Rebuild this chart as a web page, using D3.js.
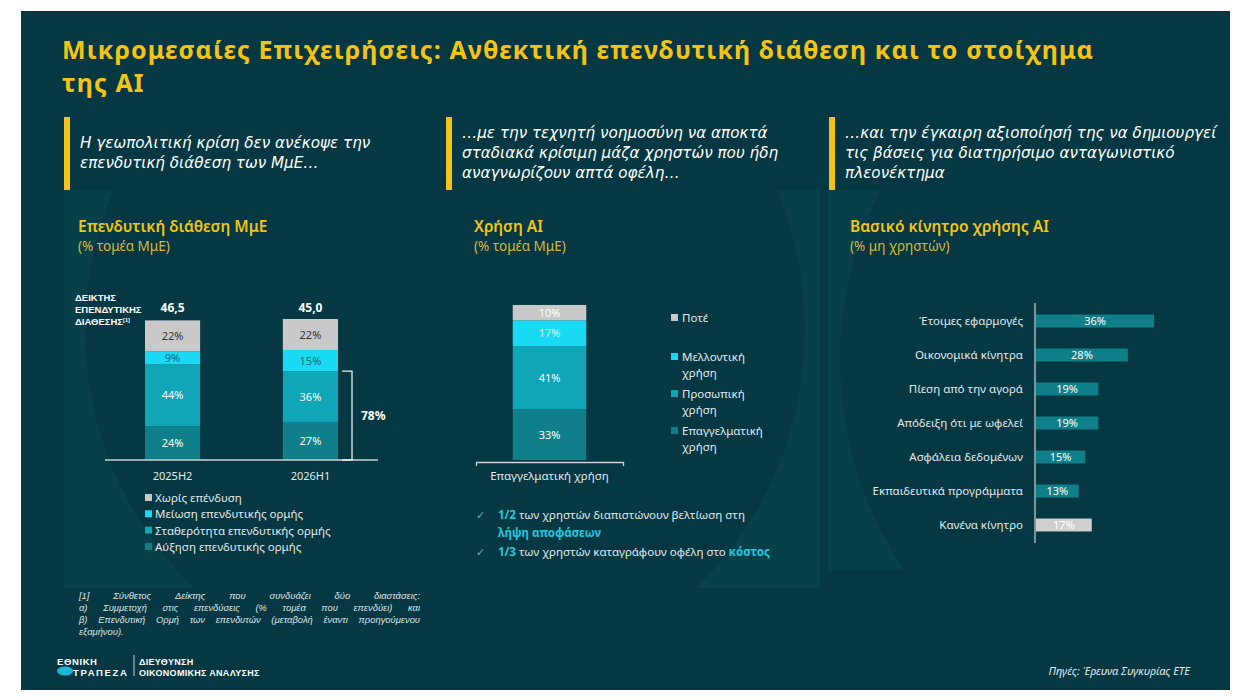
<!DOCTYPE html>
<html>
<head>
<meta charset="utf-8">
<script src="https://cdn.jsdelivr.net/npm/d3@7"></script>
<style>
  body { margin: 0; background: #fff; }
  svg { display: block; font-family: "Noto Sans", sans-serif; }
</style>
</head>
<body>
<svg id="canvas" width="1250" height="700"></svg>
<script>
// ---- data ----
const titleLines = [
  "Μικρομεσαίες Επιχειρήσεις: Ανθεκτική επενδυτική διάθεση και το στοίχημα",
  "της AI"
];
const leadTexts = [
  ["Η γεωπολιτική κρίση δεν ανέκοψε την", "επενδυτική διάθεση των ΜμΕ…"],
  ["…με την τεχνητή νοημοσύνη να αποκτά", "σταδιακά κρίσιμη μάζα χρηστών που ήδη", "αναγνωρίζουν απτά οφέλη…"],
  ["…και την έγκαιρη αξιοποίησή της να δημιουργεί", "τις βάσεις για διατηρήσιμο ανταγωνιστικό", "πλεονέκτημα"]
];

const dispCats = ["2025H2", "2026H1"];
const dispIndex = ["46,5", "45,0"];
const dispSeries = ["Αύξηση επενδυτικής ορμής", "Σταθερότητα επενδυτικής ορμής", "Μείωση επενδυτικής ορμής", "Χωρίς επένδυση"];
const dispValues = [
  [24, 27],
  [44, 36],
  [9, 15],
  [22, 22]
];

const aiCats = ["Επαγγελματική χρήση"];
const aiSeries = ["Επαγγελματική χρήση", "Προσωπική χρήση", "Μελλοντική χρήση", "Ποτέ"];
const aiLegend = [["Επαγγελματική", "χρήση"], ["Προσωπική", "χρήση"], ["Μελλοντική", "χρήση"], ["Ποτέ"]];
const aiValues = [33, 41, 17, 10];

const motiveCats = ["Έτοιμες εφαρμογές", "Οικονομικά κίνητρα", "Πίεση από την αγορά", "Απόδειξη ότι με ωφελεί", "Ασφάλεια δεδομένων", "Εκπαιδευτικά προγράμματα", "Κανένα κίνητρο"];
const motiveValues = [36, 28, 19, 19, 15, 13, 17];

const footnote = [
  "[1] Σύνθετος Δείκτης που συνδυάζει δύο διαστάσεις:",
  "α) Συμμετοχή στις επενδύσεις (% τομέα που επενδύει) και",
  "β) Επενδυτική Ορμή των επενδυτών (μεταβολή έναντι προηγούμενου",
  "εξαμήνου)."
];

// ---- styles ----
const bg = "#053842";
const panelBg = "#08404a";
const yellow = "#f3c416";
const segColors = ["#0f7f89", "#10a6b7", "#1ad9f2", "#c9c9c9"];
const segText = ["#ffffff", "#ffffff", "#16687a", "#333333"];
const textLight = "#e3eaec";

const svg = d3.select("#canvas");

// background + faint decorative panels
svg.append("rect").attr("x", 21).attr("y", 11).attr("width", 1209).attr("height", 679).attr("fill", bg);
const defs = svg.append("defs");
defs.append("clipPath").attr("id", "clipA").append("rect").attr("x", 64).attr("y", 190).attr("width", 756).attr("height", 398);
defs.append("clipPath").attr("id", "clipB").append("rect").attr("x", 828).attr("y", 190).attr("width", 368).attr("height", 380);
const deco = svg.append("g");
deco.append("rect").attr("x", 64).attr("y", 190).attr("width", 756).attr("height", 398).attr("fill", panelBg);
deco.append("circle").attr("cx", 445).attr("cy", 330).attr("r", 360).attr("fill", bg).attr("clip-path", "url(#clipA)");
deco.append("rect").attr("x", 828).attr("y", 190).attr("width", 368).attr("height", 380).attr("fill", panelBg);
deco.append("circle").attr("cx", 1215).attr("cy", 360).attr("r", 375).attr("fill", bg).attr("clip-path", "url(#clipB)");

// title, spaced out to the reference width
const title = svg.append("g").selectAll("text").data(titleLines).join("text")
  .attr("x", 62).attr("y", (d, i) => 59 + i * 33)
  .attr("fill", yellow).attr("font-size", 25).attr("font-weight", 700)
  .text(d => d);
const tNode = title.nodes()[0];
const tSpacing = (1031 - tNode.getComputedTextLength()) / (titleLines[0].length - 1);
title.attr("letter-spacing", tSpacing);

// lead blocks with yellow bars
const leadX = [64, 446, 829];
leadTexts.forEach((lines, k) => {
  const g = svg.append("g");
  g.append("rect").attr("x", leadX[k]).attr("y", 117).attr("width", 6).attr("height", 73).attr("fill", yellow);
  const y0 = lines.length === 2 ? 148 : 138;
  g.selectAll("text").data(lines).join("text")
    .attr("x", leadX[k] + 16).attr("y", (d, i) => y0 + i * 20)
    .attr("fill", "#ffffff").attr("font-family", "DejaVu Sans").attr("font-size", 15.2)
    .attr("font-style", "italic")
    .text(d => d);
});

// chart headers
const headers = [
  { x: 78, t: "Επενδυτική διάθεση ΜμΕ", s: "(% τομέα ΜμΕ)" },
  { x: 474, t: "Χρήση AI", s: "(% τομέα ΜμΕ)" },
  { x: 850, t: "Βασικό κίνητρο χρήσης AI", s: "(% μη χρηστών)" }
];
headers.forEach(h => {
  svg.append("text").attr("x", h.x).attr("y", 232).attr("fill", yellow)
    .attr("font-size", 15.5).attr("font-weight", 600).text(h.t);
  svg.append("text").attr("x", h.x).attr("y", 251).attr("fill", "#d9b73a")
    .attr("font-size", 13.5).text(h.s);
});

// ---- chart 1: stacked bars ----
const x1 = d3.scaleBand().domain(dispCats).range([105, 378]).paddingInner(0.6).paddingOuter(0.29);
const y1 = d3.scaleLinear().domain([0, 100]).range([460, 319]);
const rows1 = dispCats.map((c, j) => {
  const o = { cat: c };
  dispSeries.forEach((s, i) => o[s] = dispValues[i][j]);
  return o;
});
const stack1 = d3.stack().keys(dispSeries)(rows1);

const c1 = svg.append("g");
stack1.forEach((layer, i) => {
  const g = c1.append("g");
  g.selectAll("rect").data(layer).join("rect")
    .attr("x", d => x1(d.data.cat)).attr("width", x1.bandwidth())
    .attr("y", d => y1(d[1])).attr("height", d => y1(d[0]) - y1(d[1]))
    .attr("fill", segColors[i]);
  g.selectAll("text").data(layer).join("text")
    .attr("x", d => x1(d.data.cat) + x1.bandwidth() / 2)
    .attr("y", d => (y1(d[0]) + y1(d[1])) / 2 + 4)
    .attr("text-anchor", "middle").attr("font-size", 11).attr("fill", segText[i])
    .text(d => d.data[layer.key] + "%");
});

c1.append("g").attr("transform", "translate(0,460)")
  .call(d3.axisBottom(x1).tickSize(0).tickSizeOuter(0).tickPadding(12))
  .call(g => g.select(".domain").attr("stroke", "#c9d3d6").attr("stroke-width", 1.5).attr("d", "M105,0H378"))
  .call(g => g.selectAll("text").attr("fill", textLight).attr("font-size", 11).attr("font-family", "Noto Sans"));

c1.selectAll(".idx").data(dispCats).join("text")
  .attr("x", d => x1(d) + x1.bandwidth() / 2).attr("y", 312)
  .attr("text-anchor", "middle").attr("fill", "#ffffff").attr("font-size", 12).attr("font-weight", 700)
  .text((d, i) => dispIndex[i]);

const idxLabel = c1.append("text").attr("fill", "#ffffff").attr("font-family", "Liberation Sans")
  .attr("font-size", 9.5).attr("font-weight", 700);
["ΔΕΙΚΤΗΣ", "ΕΠΕΝΔΥΤΙΚΗΣ", "ΔΙΑΘΕΣΗΣ"].forEach((t, i) => {
  idxLabel.append("tspan").attr("x", 75).attr("y", 301 + i * 12).text(t);
  if (i === 2) idxLabel.append("tspan").attr("font-size", 5.5).attr("dy", -3.5).text("[1]");
});

// bracket on 2026H1
const lastCat = dispCats[1];
const bx = x1(lastCat) + x1.bandwidth() + 14;
const bTop = y1(dispValues[0][1] + dispValues[1][1]);
c1.append("path")
  .attr("d", `M${bx - 10},${bTop}H${bx}V${y1(0)}H${bx - 10}`)
  .attr("fill", "none").attr("stroke", "#e8eef0").attr("stroke-width", 1.3);
const investing = dispValues[0][1] + dispValues[1][1] + dispValues[2][1];
c1.append("text").attr("x", bx + 9).attr("y", (bTop + y1(0)) / 2 + 4)
  .attr("fill", "#ffffff").attr("font-size", 12).attr("font-weight", 700).text(investing + "%");

// legend 1 (top item = last series)
const leg1 = c1.append("g").selectAll("g").data(dispSeries.slice().reverse()).join("g")
  .attr("transform", (d, i) => `translate(145,${502 + i * 16.3})`);
leg1.append("rect").attr("x", 0).attr("y", -8).attr("width", 7).attr("height", 7)
  .attr("fill", (d, i) => segColors[3 - i]);
leg1.append("text").attr("x", 10).attr("y", 0).attr("fill", textLight).attr("font-size", 11.5).text(d => d);

// ---- chart 2: single stacked bar ----
const x2 = d3.scaleBand().domain(aiCats).range([476, 623]).paddingInner(0.5).paddingOuter(0.25);
const y2 = d3.scaleLinear().domain([0, 100]).range([460, 306.5]);
const row2 = { cat: aiCats[0] };
aiSeries.forEach((s, i) => row2[s] = aiValues[i]);
const stack2 = d3.stack().keys(aiSeries)([row2]);
const c2 = svg.append("g");
stack2.forEach((layer, i) => {
  const g = c2.append("g");
  g.selectAll("rect").data(layer).join("rect")
    .attr("x", d => x2(d.data.cat)).attr("width", x2.bandwidth())
    .attr("y", d => y2(d[1])).attr("height", d => y2(d[0]) - y2(d[1]))
    .attr("fill", segColors[i]);
  g.selectAll("text").data(layer).join("text")
    .attr("x", d => x2(d.data.cat) + x2.bandwidth() / 2)
    .attr("y", d => (y2(d[0]) + y2(d[1])) / 2 + 4)
    .attr("text-anchor", "middle").attr("font-size", 11)
    .attr("fill", i === 2 ? "#d9f7fc" : "#ffffff")
    .text(d => d.data[layer.key] + "%");
});
c2.append("g").attr("transform", "translate(0,462)")
  .call(d3.axisBottom(x2).tickSize(0).tickSizeOuter(4).tickPadding(10))
  .call(g => g.select(".domain").attr("stroke", "#c9d3d6").attr("stroke-width", 1.3))
  .call(g => g.selectAll("text").attr("fill", textLight).attr("font-size", 11.5).attr("font-family", "Noto Sans"));

// legend 2
const leg2Y = [322, 361, 398, 435];
const leg2 = c2.append("g").selectAll("g").data(aiLegend.slice().reverse()).join("g")
  .attr("transform", (d, i) => `translate(671,${leg2Y[i]})`);
leg2.append("rect").attr("x", 0).attr("y", -8).attr("width", 7).attr("height", 7)
  .attr("fill", (d, i) => segColors[3 - i]);
leg2.selectAll("text").data(d => d).join("text")
  .attr("x", 11).attr("y", (d, i) => i * 15.5).attr("fill", textLight).attr("font-size", 11.5).text(d => d);

// highlights
const cyan = "#22c7e0";
const notes = [
  { y: 519, parts: [["1/2", true], [" των χρηστών διαπιστώνουν βελτίωση στη", false]], tick: true },
  { y: 537, parts: [["λήψη αποφάσεων", true]], tick: false },
  { y: 556, parts: [["1/3", true], [" των χρηστών καταγράφουν οφέλη στο ", false], ["κόστος", true]], tick: true }
];
notes.forEach(n => {
  if (n.tick) c2.append("text").attr("x", 476).attr("y", n.y).attr("fill", "#5fb7c2").attr("font-size", 11).text("✓");
  const t = c2.append("text").attr("x", 498).attr("y", n.y).attr("font-size", 11.5);
  n.parts.forEach(p => t.append("tspan").attr("fill", p[1] ? cyan : textLight)
    .attr("font-weight", p[1] ? 700 : 400).text(p[0]));
});

// ---- chart 3: horizontal bars ----
const x3 = d3.scaleLinear().domain([0, 100]).range([1036, 1364]);
const y3 = d3.scaleBand().domain(motiveCats).range([304, 542]).paddingInner(0.62).paddingOuter(0.31);
const c3 = svg.append("g");
c3.selectAll("rect").data(motiveCats).join("rect")
  .attr("x", x3(0)).attr("y", d => y3(d))
  .attr("width", (d, i) => x3(motiveValues[i]) - x3(0)).attr("height", y3.bandwidth())
  .attr("fill", (d, i) => i === motiveCats.length - 1 ? "#cfcfcf" : segColors[0]);
c3.selectAll(".val").data(motiveCats).join("text")
  .attr("x", (d, i) => (x3(0) + x3(motiveValues[i])) / 2)
  .attr("y", d => y3(d) + y3.bandwidth() / 2 + 4)
  .attr("text-anchor", "middle").attr("fill", "#ffffff").attr("font-size", 11)
  .text((d, i) => motiveValues[i] + "%");
c3.append("g").attr("transform", "translate(1035,0)")
  .call(d3.axisLeft(y3).tickSize(0).tickSizeOuter(0).tickPadding(12))
  .call(g => g.select(".domain").attr("stroke", "#c9d3d6").attr("stroke-width", 1.2).attr("d", "M0,303V543"))
  .call(g => g.selectAll("text").attr("fill", textLight).attr("font-size", 11.5).attr("font-family", "Noto Sans"));

// ---- footnote (justified) ----
const fn = svg.append("g").attr("fill", "#dfe6e8").attr("font-family", "Liberation Sans")
  .attr("font-size", 9.4).attr("font-style", "italic");
const fnX0 = 79, fnX1 = 420;
footnote.forEach((line, li) => {
  const y = 599 + li * 12;
  const words = line.split(" ");
  const last = li === footnote.length - 1;
  const nodes = words.map(w => fn.append("text").attr("y", y).text(w));
  const widths = nodes.map(n => n.node().getComputedTextLength());
  const total = d3.sum(widths);
  const gap = last ? 3 : (fnX1 - fnX0 - total) / (words.length - 1);
  let x = fnX0;
  nodes.forEach((n, i) => { n.attr("x", x); x += widths[i] + gap; });
});

// ---- footer ----
const ft = svg.append("g").attr("fill", "#ffffff").attr("font-family", "Liberation Sans").attr("font-weight", 700);
ft.append("text").attr("x", 57).attr("y", 664.5).attr("font-size", 9.5).attr("letter-spacing", 0.6).text("ΕΘΝΙΚΗ");
ft.append("ellipse").attr("cx", 65).attr("cy", 671).attr("rx", 8).attr("ry", 4.5).attr("fill", "#19b8d6");
ft.append("text").attr("x", 73).attr("y", 675.5).attr("font-size", 9.5).attr("letter-spacing", 1.6).text("ΤΡΑΠΕΖΑ");
ft.append("line").attr("x1", 134).attr("x2", 134).attr("y1", 655).attr("y2", 676).attr("stroke", "#ffffff").attr("stroke-width", 0.8);
ft.append("text").attr("x", 139).attr("y", 665).attr("font-size", 9).attr("letter-spacing", 0.3).text("ΔΙΕΥΘΥΝΣΗ");
ft.append("text").attr("x", 139).attr("y", 676).attr("font-size", 9).attr("letter-spacing", 0.3).text("ΟΙΚΟΝΟΜΙΚΗΣ ΑΝΑΛΥΣΗΣ");
ft.append("text").attr("x", 1190).attr("y", 675).attr("text-anchor", "end").attr("font-size", 11)
  .attr("font-family", "Noto Sans").attr("font-weight", 400)
  .attr("font-style", "italic").attr("fill", "#e3eaec").text("Πηγές: Έρευνα Συγκυρίας ΕΤΕ");
</script>
</body>
</html>
